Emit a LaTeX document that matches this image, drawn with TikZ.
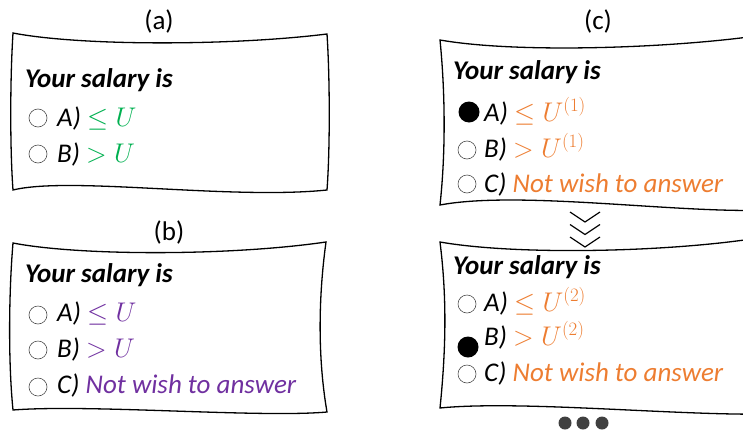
\RequirePackage{fix-cm}
\documentclass[tikz,border=0pt]{standalone}
\usepackage{amsmath,amssymb}
\usepackage{fontspec}
\setmainfont{Carlito}
\usetikzlibrary{positioning}
\definecolor{ansgreen}{HTML}{00B050}
\definecolor{anspurple}{HTML}{7030A0}
\definecolor{ansorange}{HTML}{ED7D31}
\definecolor{dotgray}{HTML}{404040}
\tikzset{
  card/.style={draw=black,line width=1.3pt},
  tag/.style={inner sep=0pt,font=\fontsize{27}{31}\selectfont},
  qtitle/.style={anchor=base west,inner sep=0pt,font=\fontsize{27}{31}\selectfont\bfseries\itshape},
  opt/.style={anchor=base west,inner sep=0pt,font=\fontsize{27}{31}\selectfont\itshape},
  radio/.style={circle,draw=black!70,line width=0.6pt,minimum size=18pt,inner sep=0pt},
  radioon/.style={circle,fill=black,minimum size=21pt,inner sep=0pt},
}

\begin{document}
\begin{tikzpicture}[x=1pt,y=-1pt]
    \useasboundingbox (0,0) rectangle (743,434);
    \clip (0,0) rectangle (743,434);

    % (a)
    \node[tag] (la) at (159,21) {(a)};
    \draw[card] (13,33) .. controls (80,46) and (230,46) .. (327,34)
        .. controls (330,80) and (330,150) .. (327,190)
        .. controls (230,200) and (70,176) .. (13,190)
        .. controls (10,150) and (10,80) .. cycle;
    \node[qtitle] (ta) at (25,87) {Your salary is};
    \node[opt] (a1) at (57,126) {A)~\textcolor{ansgreen}{$\le U$}};
    \node[opt] (a2) at (57,162) {B)~\textcolor{ansgreen}{$> U$}};
    \foreach\y in {118,154}\node[radio] at (38,\y) {};%ラジオボタン

    % (b)
    \node[tag] (lb) at (169,232) {(b)};
    \draw[card] (13,243) .. controls (80,256) and (230,256) .. (326,242)
        .. controls (318,300) and (318,360) .. (327,412)
        .. controls (260,418) and (90,404) .. (13,410)
        .. controls (8,360) and (9,290) .. cycle;
    \node[qtitle] (tb) at (25,282) {Your salary is};
    \node[opt] (b1) at (57,321) {A)~\textcolor{anspurple}{$\le U$}};
    \node[opt] (b2) at (57,357) {B)~\textcolor{anspurple}{$> U$}};
    \node[opt] (b3) at (57,393) {C) \textcolor{anspurple}{Not wish to answer}};
    \foreach\y in {315,350,387}\node[radio] at (38,\y) {};

    % (c) 1回目
    \node[tag] (lc) at (598,21) {(c)};
    \draw[card] (440,40) .. controls (520,54) and (680,48) .. (770,34)
        -- (770,210)
        .. controls (680,214) and (520,190) .. (440,205)
        .. controls (446,150) and (445,90) .. cycle;
    \node[qtitle] (tc) at (453,79) {Your salary is};
    \node[opt] (c1) at (484,121) {A)~\textcolor{ansorange}{$\le U^{(1)}$}};
    \node[opt] (c2) at (484,157) {B)~\textcolor{ansorange}{$> U^{(1)}$}};
    \node[opt] (c3) at (484,192) {C) \textcolor{ansorange}{Not wish to answer}};
    \node[radioon] at (469,112) {};
    \foreach\y in {150,184}\node[radio] at (467,\y) {};

    % 矢印
    \coordinate (chev) at (585,212);
    \foreach\k in {0,1,2}
        \draw[line width=1.2pt] ([shift={(0,\k*12.5)}]chev) ++(-15,0) -- ++(15,10) -- ++(15,-10);

    % (c) 2回目
    \draw[card] (440,242) .. controls (520,256) and (680,252) .. (770,236)
        -- (770,414)
        .. controls (680,416) and (520,400) .. (440,408)
        .. controls (447,340) and (446,290) .. cycle;
    \node[qtitle] (td) at (453,274) {Your salary is};
    \node[opt] (d1) at (484,311) {A)~\textcolor{ansorange}{$\le U^{(2)}$}};
    \node[opt] (d2) at (484,345) {B)~\textcolor{ansorange}{$> U^{(2)}$}};
    \node[opt] (d3) at (484,381) {C) \textcolor{ansorange}{Not wish to answer}};
    \node[radioon] at (468,347) {};
    \foreach\y in {304,374}\node[radio] at (467,\y) {};

    \foreach\x in {565,583,602}\fill[dotgray](\x,423)circle(6.5);%続き
\end{tikzpicture}
\end{document}
